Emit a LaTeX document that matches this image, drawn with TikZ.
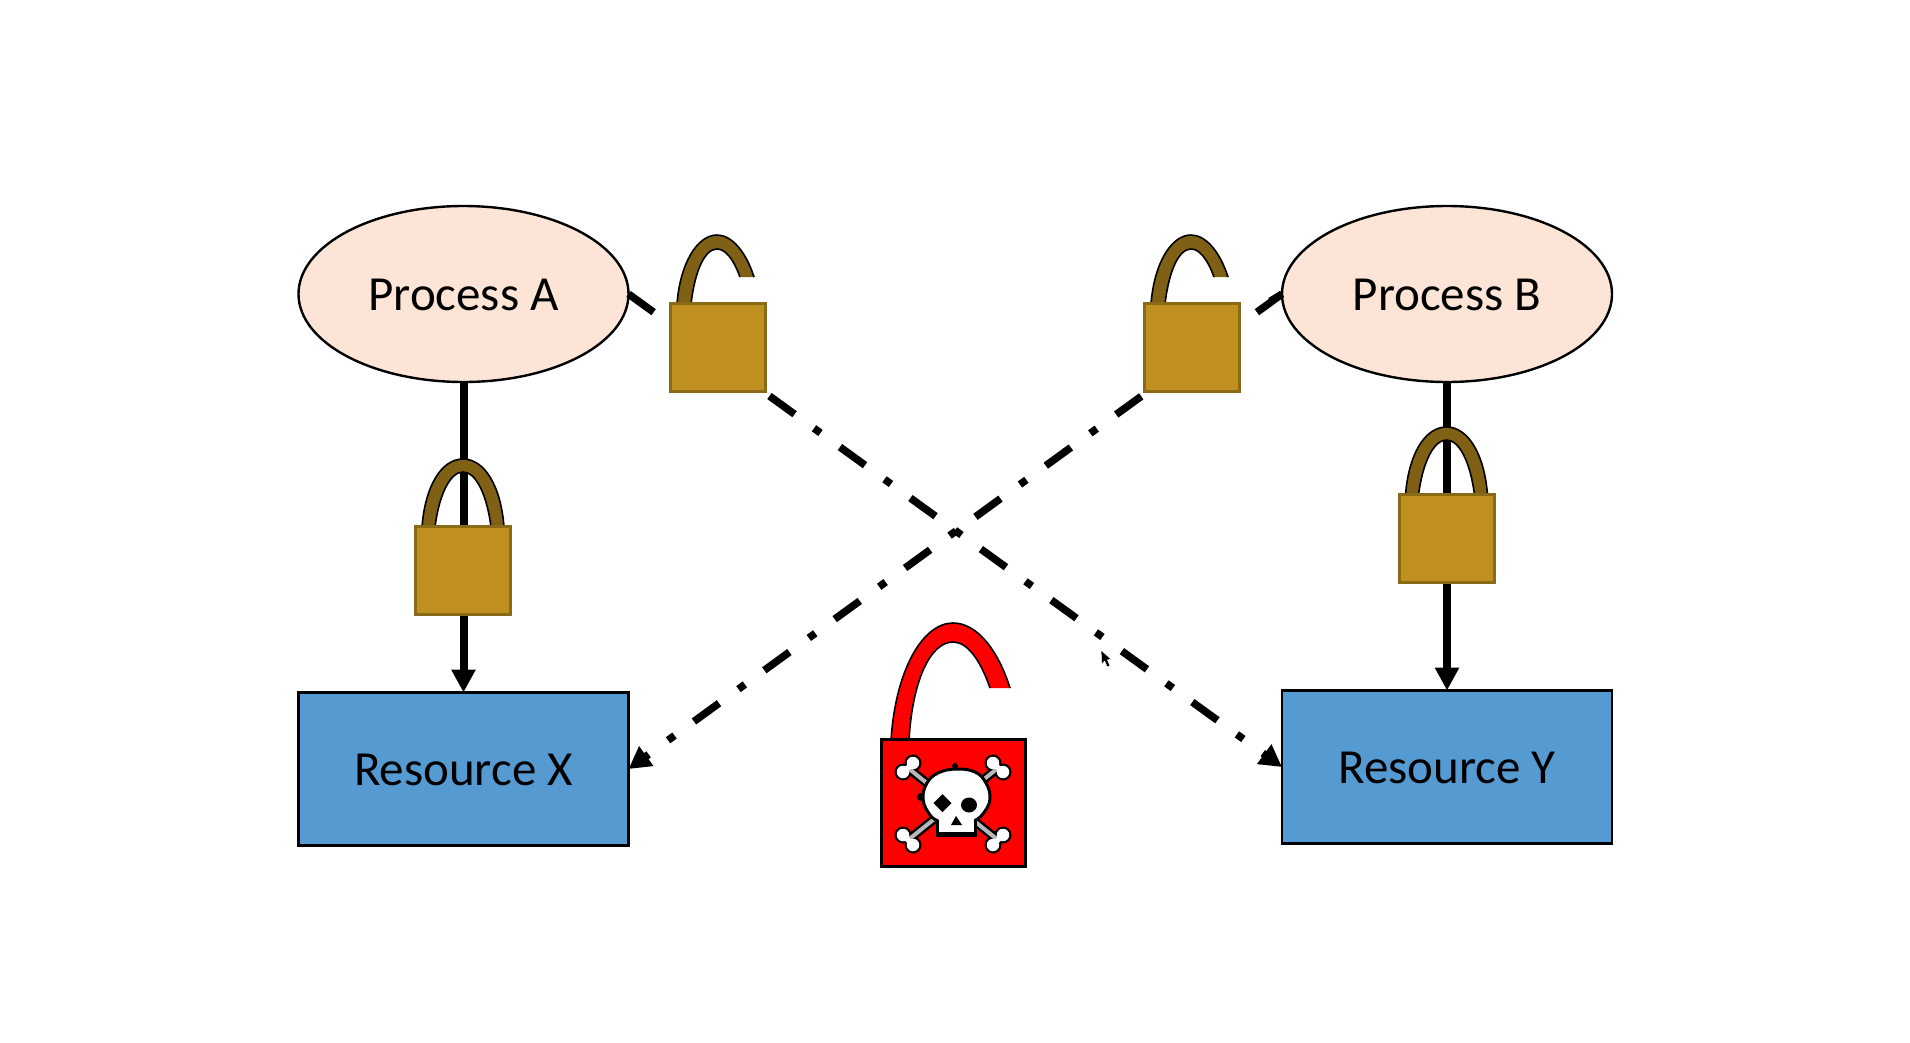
\documentclass[tikz,border=0pt]{standalone}
\usepackage{fontspec}
\setmainfont{Carlito}
\usetikzlibrary{arrows.meta,shapes.geometric}
\definecolor{procfill}{HTML}{FCE4D6}
\definecolor{resfill}{HTML}{569AD2}
\definecolor{goldfill}{HTML}{BF8F20}
\definecolor{goldedge}{HTML}{8A6A17}
\definecolor{shacklefill}{HTML}{7F6015}
\newcommand{\lowlabel}[1]{\raisebox{-16.5pt}[0pt][0pt]{#1}}
\tikzset{
  proc/.style={ellipse,draw=black,line width=2.4pt,fill=procfill,minimum width=330pt,minimum height=176pt,inner sep=0pt,outer sep=0pt,font=\fontsize{49}{56}\selectfont},
  res/.style={rectangle,draw=black,line width=2.4pt,fill=resfill,minimum width=330pt,minimum height=153pt,inner sep=0pt,outer sep=0pt,font=\fontsize{49}{56}\selectfont},
  solidarrow/.style={line width=8pt,-{Triangle[length=23pt,width=23pt]}},
  holdline/.style={line width=7.5pt,-{Triangle[length=22pt,width=23pt]},dash pattern=on 31pt off 24pt on 8pt off 24pt},
  stubline/.style={line width=7pt},
  lockbody/.style={rectangle,draw=goldedge,line width=3pt,fill=goldfill,minimum width=95pt,minimum height=88pt,inner sep=0pt,outer sep=0pt},
  redbody/.style={rectangle,draw=black,line width=3pt,fill=red,minimum width=144pt,minimum height=127pt,inner sep=0pt,outer sep=0pt},
  shackleedge/.style={draw=black,line width=1.6pt},
  bonecore/.style={line width=4pt,draw=black!28},
  boneouter/.style={line width=9pt,draw=black},
  knoblack/.style={circle,fill=black,minimum size=17pt,inner sep=0pt},
  knobwhite/.style={circle,fill=white,minimum size=12.5pt,inner sep=0pt},
}
\newcommand{\openshackle}[3]{%
  \begin{scope}[shift={(#1,#2)}]
    \fill[#3] (-41,2) .. controls (-38,-38) and (-21,-67) .. (-1,-67)
      .. controls (14,-67) and (28,-50) .. (36,-25) -- (22,-25)
      .. controls (15,-44) and (7,-53) .. (-1,-53)
      .. controls (-13,-53) and (-23,-32) .. (-27,2) -- cycle;
    \draw[shackleedge] (-41,2) .. controls (-38,-38) and (-21,-67) .. (-1,-67)
      .. controls (14,-67) and (28,-50) .. (36,-25);
    \draw[shackleedge] (22,-25)
      .. controls (15,-44) and (7,-53) .. (-1,-53)
      .. controls (-13,-53) and (-23,-32) .. (-27,2);
  \end{scope}}
\newcommand{\closedshackle}[3]{%
  \begin{scope}[shift={(#1,#2)}]
    \fill[#3] (-41,2) .. controls (-38,-38) and (-22,-66) .. (0,-66)
      .. controls (22,-66) and (38,-38) .. (41,2) -- (28,2)
      .. controls (24,-30) and (13,-53) .. (0,-53)
      .. controls (-13,-53) and (-24,-30) .. (-28,2) -- cycle;
    \draw[shackleedge] (-41,2) .. controls (-38,-38) and (-22,-66) .. (0,-66)
      .. controls (22,-66) and (38,-38) .. (41,2);
    \draw[shackleedge] (28,2) .. controls (24,-30) and (13,-53) .. (0,-53)
      .. controls (-13,-53) and (-24,-30) .. (-28,2);
  \end{scope}}
\begin{document}
\begin{tikzpicture}[x=1pt,y=-1pt]
\useasboundingbox (0,0) rectangle (1910,1042);
\fill[white] (0,0) rectangle (1910,1042);
% processes and resources
\node[proc] (procA) at (463.5,294) {\lowlabel{Process A}};
\node[proc] (procB) at (1447,294) {\lowlabel{Process B}};
\node[res] (resX) at (463.5,769) {\lowlabel{Resource X}};
\node[res] (resY) at (1447,767) {\lowlabel{Resource Y}};
% connectors
\draw[solidarrow] (procA.south) -- (resX.north);
\draw[solidarrow] (procB.south) -- (resY.north);
\draw[holdline] (procA.east) -- (resY.west);
\draw[holdline] (procB.west) -- (resX.east);
\draw[stubline] (procB.west) -- ++(-12,7);
% brown locks
\openshackle{718}{302}{shacklefill}
\openshackle{1192}{302}{shacklefill}
\closedshackle{463}{525}{shacklefill}
\closedshackle{1446.5}{493}{shacklefill}
\node[lockbody] (lockA) at (718,347) {};
\node[lockbody] (lockB) at (1192,347) {};
\node[lockbody] (lockX) at (463,570) {};
\node[lockbody] (lockY) at (1446.5,538) {};
% red lock
\fill[red] (891,741) .. controls (895,672) and (922,623) .. (953,623)
  .. controls (977,623) and (998,650) .. (1010,688) -- (990,688)
  .. controls (980,659) and (967,642) .. (953,642)
  .. controls (930,642) and (912,682) .. (909,741) -- cycle;
\draw[shackleedge] (891,741) .. controls (895,672) and (922,623) .. (953,623)
  .. controls (977,623) and (998,650) .. (1010,688);
\draw[shackleedge] (990,688) .. controls (980,659) and (967,642) .. (953,642)
  .. controls (930,642) and (912,682) .. (909,741);
\node[redbody] (lockRed) at (953.5,803) {};
% crossbones
\coordinate (boneTL) at (908,768);
\coordinate (boneBR) at (998,840);
\coordinate (boneTR) at (998,768);
\coordinate (boneBL) at (908,840);
\draw[boneouter] (boneTL) -- (boneBR);
\draw[boneouter] (boneTR) -- (boneBL);
\foreach \kx/\ky in {913/763,903/772,993/763,1003/772,903/835,913/845,1003/835,993/845}
  \node[knoblack] at (\kx,\ky) {};
\draw[bonecore] (boneTL) -- (boneBR);
\draw[bonecore] (boneTR) -- (boneBL);
\foreach \kx/\ky in {913/763,903/772,993/763,1003/772,903/835,913/845,1003/835,993/845}
  \node[knobwhite] at (\kx,\ky) {};
\draw[line width=5pt,white] (913,763) -- (903,772);
\draw[line width=5pt,white] (993,763) -- (1003,772);
\draw[line width=5pt,white] (903,835) -- (913,845);
\draw[line width=5pt,white] (1003,835) -- (993,845);
% skull
\fill[black] (936,815) rectangle (977,837);
\fill[black] (955,766) circle (3);
\fill[black] (921,797) circle (4);
\draw[black,line width=3pt,fill=white] plot[smooth cycle,tension=.7] coordinates {(956,769) (975,772) (986,783) (990,798) (985,811) (974,821) (956,824) (938,821) (928,812) (923,798) (927,783) (938,773)};
\fill[white] (939,815) rectangle (974,832);
\fill[black] (942.5,794) -- (951.5,803) -- (942.5,812) -- (933.5,803) -- cycle;
\fill[black] (969,805) ellipse (8 and 7.5);
\fill[black] (956,816) -- (962,825) -- (951,825) -- cycle;
% mouse pointer
\draw[white,line width=.5pt,fill=black,line join=round] (1101,650) -- (1101.7,664) -- (1104.6,661) -- (1107.2,667) -- (1110,665.7) -- (1107.4,660) -- (1111,659.2) -- cycle;
\end{tikzpicture}
\end{document}
